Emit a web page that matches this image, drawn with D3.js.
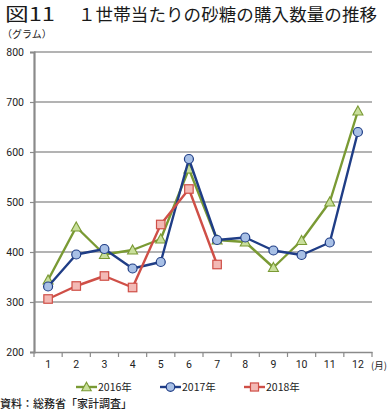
<!DOCTYPE html>
<html><head><meta charset="utf-8">
<script src="https://cdn.jsdelivr.net/npm/d3@7"></script>
<style>
body{margin:0;background:#fff;}
svg text{font-family:"Noto Sans CJK JP","Noto Sans",sans-serif;}
</style></head>
<body><svg id="c" width="389" height="418"></svg>
<script>
const months = ["1","2","3","4","5","6","7","8","9","10","11","12"];
const s2016 = [344,450,395,404,426,566,424,420,369,423,500,682];
const s2017 = [331,395,406,367,380,586,424,429,403,394,419,640];
const s2018 = [306,332,352,329,455,526,375];
const yTicks = [200,300,400,500,600,700,800];
const seriesNames = ["2016年","2017年","2018年"];

const series = [
  {name:seriesNames[0], values:s2016, line:"#7a9a34", fill:"#c9df9c", shape:"tri"},
  {name:seriesNames[1], values:s2017, line:"#1f3d86", fill:"#a8c0e6", shape:"circle"},
  {name:seriesNames[2], values:s2018, line:"#cf4f47", fill:"#f3b9b5", shape:"square"}
];

const svg = d3.select("#c");
const L=34, R=372, T=52, B=352;
const x = d3.scaleBand().domain(months).range([L,R]);
const y = d3.scaleLinear().domain([200,800]).range([B,T]);

svg.append("text").attr("x",5).attr("y",21).attr("font-size",18).attr("font-weight",400)
  .attr("fill","#1a1a1a").attr("textLength",50).attr("lengthAdjust","spacingAndGlyphs").text("図11");
svg.append("text").attr("x",78).attr("y",21).attr("font-size",17.5).attr("font-weight",400)
  .attr("fill","#1a1a1a").attr("textLength",299).attr("lengthAdjust","spacing").text("１世帯当たりの砂糖の購入数量の推移");
svg.append("text").attr("x",2).attr("y",38).attr("font-size",10).attr("fill","#222").text("（グラム）");

// gridlines
svg.append("g").selectAll("line").data(yTicks.filter(d=>d>200)).join("line")
  .attr("x1",L).attr("x2",R).attr("y1",d=>y(d)).attr("y2",d=>y(d))
  .attr("stroke","#9a9a9a").attr("stroke-width",1.3);

// y axis
const ya = svg.append("g").attr("transform",`translate(${L},0)`)
  .call(d3.axisLeft(y).tickValues(yTicks).tickSize(4).tickPadding(6));
ya.select(".domain").attr("stroke","#8a8a8a").attr("stroke-width",2.2);
ya.selectAll(".tick line").attr("stroke","#8a8a8a").attr("stroke-width",1.2);
ya.selectAll("text").attr("font-size",10.5).attr("fill","#222").style("font-family","Roboto,'Liberation Sans',sans-serif");

// x axis
const xa = svg.append("g").attr("transform",`translate(0,${B})`)
  .call(d3.axisBottom(x).tickSize(0).tickPadding(9));
xa.select(".domain").attr("stroke","#8a8a8a").attr("stroke-width",1.5);
xa.selectAll("text").attr("font-size",10.5).attr("fill","#222").style("font-family","Roboto,'Liberation Sans',sans-serif");
// boundary ticks
const bounds = months.map((m,i)=>x(m)).concat([R]);
svg.append("g").selectAll("line").data(bounds).join("line")
  .attr("x1",d=>d).attr("x2",d=>d).attr("y1",B).attr("y2",B+5)
  .attr("stroke","#8a8a8a").attr("stroke-width",1.2);
svg.append("text").attr("x",371).attr("y",B+16.5).attr("font-size",9.5).attr("fill","#222")
  .text("(月)");

const cx = i => x(months[i]) + x.bandwidth()/2;
const line = d3.line().x((d,i)=>cx(i)).y(d=>y(d));

function marker(g, shape, fill, stroke, px, py, sc=1){
  if(shape==="circle"){
    g.append("circle").attr("cx",px).attr("cy",py).attr("r",4.5*sc).attr("fill",fill).attr("stroke",stroke).attr("stroke-width",1.2);
  } else if(shape==="square"){
    const s=8.5*sc;
    g.append("rect").attr("x",px-s/2).attr("y",py-s/2).attr("width",s).attr("height",s).attr("fill",fill).attr("stroke",stroke).attr("stroke-width",1.2);
  } else {
    const h=5*sc;
    g.append("path").attr("d",`M${px},${py-h}L${px+h},${py+h*0.8}L${px-h},${py+h*0.8}Z`).attr("fill",fill).attr("stroke",stroke).attr("stroke-width",1.1);
  }
}

series.forEach(s=>{
  const g = svg.append("g");
  g.append("path").datum(s.values).attr("d",line).attr("fill","none")
    .attr("stroke",s.line).attr("stroke-width",2.4).attr("stroke-linejoin","round");
  s.values.forEach((v,i)=>marker(g,s.shape,s.fill,s.line,cx(i),y(v)));
});

// legend
const legX = [76,160,244];
series.forEach((s,k)=>{
  const g = svg.append("g");
  const ly = 387;
  g.append("line").attr("x1",legX[k]).attr("x2",legX[k]+21).attr("y1",ly).attr("y2",ly)
    .attr("stroke",s.line).attr("stroke-width",2.4);
  marker(g,s.shape,s.fill,s.line,legX[k]+10.5,ly,0.95);
  g.append("text").attr("x",legX[k]+22).attr("y",ly+4).attr("font-size",10.5).attr("fill","#222").text(s.name);
});

svg.append("text").attr("x",0).attr("y",408).attr("font-size",11).attr("font-weight",500).attr("fill","#222")
  .text("資料：総務省「家計調査」");
</script></body></html>
